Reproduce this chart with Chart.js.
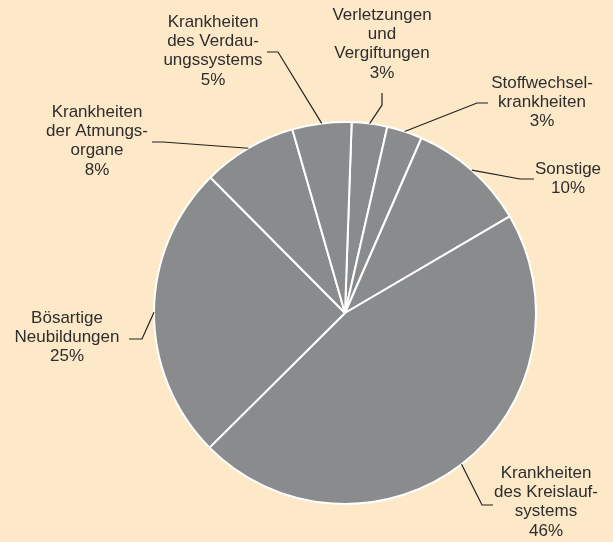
<!DOCTYPE html>
<html>
<head>
<meta charset="utf-8">
<script src="https://cdn.jsdelivr.net/npm/chart.js@4.4.0/dist/chart.umd.min.js"></script>
<style>
  body { margin: 0; background: #fde8c8; }
  canvas { display: block; }
</style>
</head>
<body>
<canvas id="pie" width="613" height="542"></canvas>
<script>
// Todesursachen, Anteile in Prozent (im Uhrzeigersinn ab 12 Uhr)
var categories = [
    ['Verletzungen', 'und', 'Vergiftungen'],
    ['Stoffwechsel-', 'krankheiten'],
    ['Sonstige'],
    ['Krankheiten', 'des Kreislauf-', 'systems'],
    ['Bösartige', 'Neubildungen'],
    ['Krankheiten', 'der Atmungs-', 'organe'],
    ['Krankheiten', 'des Verdau-', 'ungssystems']
];
var shares = [3, 3, 10, 46, 25, 8, 5];
var shareLabels = ['3%', '3%', '10%', '46%', '25%', '8%', '5%'];

// where the callouts sit: text centre x, first line y, leader elbow + end
var callouts = [
    { x: 382, y: 15, path: [[382, 105], [382, 93]] },
    { x: 542, y: 83, path: [[477, 103], [488, 103]] },
    { x: 568, y: 169, path: [[520, 179], [534, 179]] },
    { x: 546, y: 473, path: [[482, 505], [493, 505]] },
    { x: 67, y: 318, path: [[142, 339], [129, 339]] },
    { x: 97, y: 112, path: [[163, 142], [152, 142]] },
    { x: 213, y: 22, path: [[278, 52], [267, 52]] }
];

var calloutPlugin = {
    id: 'callouts',
    afterDatasetsDraw: function(chart) {
        var ctx = chart.ctx;
        var arcs = chart.getDatasetMeta(0).data;
        ctx.save();
        arcs.forEach(function(arc, i) {
            var c = callouts[i];
            var mid = (arc.startAngle + arc.endAngle) / 2;
            var r = arc.outerRadius;
            ctx.strokeStyle = '#222';
            ctx.lineWidth = 1.2;
            ctx.beginPath();
            ctx.moveTo(arc.x + Math.cos(mid) * r, arc.y + Math.sin(mid) * r);
            c.path.forEach(function(p) { ctx.lineTo(p[0], p[1]); });
            ctx.stroke();

            ctx.fillStyle = '#2e2e2e';
            ctx.font = '17px "Liberation Sans", Arial, sans-serif';
            ctx.textAlign = 'center';
            ctx.textBaseline = 'middle';
            var lines = categories[i].concat([shareLabels[i]]);
            lines.forEach(function(t, k) {
                ctx.fillText(t, c.x, c.y + k * 19.3);
            });
        });
        ctx.restore();
    }
};

var chartContent = document.getElementById('pie').getContext('2d');

const pieChart = new Chart(chartContent, {
    type: 'pie',
    data: {
        labels: categories.map(function(l) { return l.join(' '); }),
        datasets: [{
            data: shares,
            backgroundColor: '#8a8b8d',
            borderColor: '#ffffff',
            borderWidth: 2
        }]
    },
    options: {
        responsive: false,
        animation: false,
        rotation: 2,
        layout: {
            padding: { top: 121, bottom: 37, left: 153, right: 76 }
        },
        plugins: {
            legend: { display: false },
            tooltip: { enabled: false }
        }
    },
    plugins: [calloutPlugin]
});
</script>
</body>
</html>
